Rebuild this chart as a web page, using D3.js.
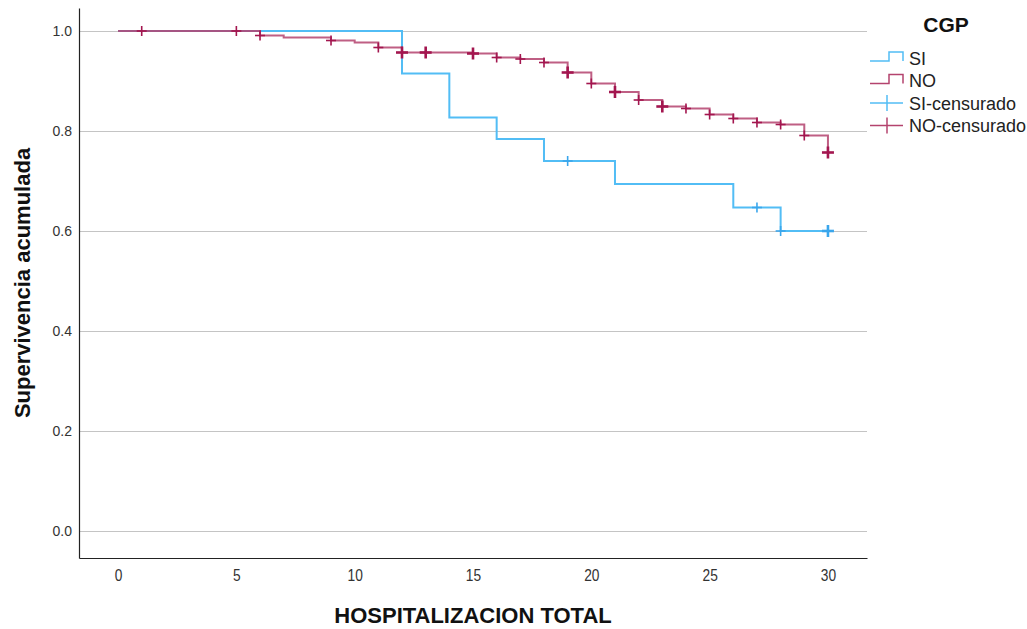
<!DOCTYPE html>
<html>
<head>
<meta charset="utf-8">
<script src="https://cdn.jsdelivr.net/npm/d3@7"></script>
<style>
  body { margin: 0; background: #fff; }
  text { font-family: "Liberation Sans", Arial, sans-serif; }
</style>
</head>
<body>
<script>
// Kaplan-Meier data
var si_times = [0, 12, 14, 16, 18, 21, 26, 28, 30];
var si_surv = [1.0, 0.915, 0.827, 0.784, 0.740, 0.694, 0.647, 0.600, 0.600];
var si_cens_times = [19, 27, 28, 30];
var si_cens_n = [1, 1, 1, 2];

var no_times = [0, 6, 7, 9, 10, 11, 12, 15, 16, 17, 18, 19, 20, 21, 22, 23, 24, 25, 26, 27, 28, 29, 30];
var no_surv = [1.0, 0.991, 0.987, 0.981, 0.977, 0.967, 0.957, 0.955, 0.947, 0.944, 0.937, 0.917,
               0.895, 0.878, 0.862, 0.849, 0.845, 0.833, 0.825, 0.817, 0.813, 0.791, 0.757];
var no_cens_times = [1, 5, 6, 9, 11, 12, 13, 15, 16, 17, 18, 19, 20, 21, 22, 23, 24, 25, 26, 27, 28, 29, 30];
var no_cens_n = [1, 1, 1, 1, 1, 2, 2, 2, 1, 1, 1, 2, 1, 2, 1, 2, 1, 1, 1, 1, 1, 1, 2];

var x_ticks = [0, 5, 10, 15, 20, 25, 30];
var y_ticks = [0, 0.2, 0.4, 0.6, 0.8, 1.0];
var legend_labels = ["SI", "NO", "SI-censurado", "NO-censurado"];

// Define margins
var margin = { top: 8, right: 160, bottom: 71, left: 79 };
var outer_width = 1027;
var outer_height = 629;
var width = outer_width - margin.left - margin.right;
var height = outer_height - margin.top - margin.bottom;

var si_color = "#52bdf5";
var si_mark = "#3aa6ec";
var no_color = "#b4436e";
var no_mark = "#a3164f";

var root = d3.select("body").append("svg")
    .attr("width", outer_width)
    .attr("height", outer_height);

var svg = root.append("g")
    .attr("transform", "translate(" + margin.left + "," + margin.top + ")");

var xScale = d3.scaleLinear().domain([-1.65, 31.65]).range([0, width]);
var yScale = d3.scaleLinear().domain([-0.054, 1.046]).range([height, 0]);

// gridlines
svg.append("g").selectAll("line")
    .data(y_ticks)
    .join("line")
    .attr("x1", 0)
    .attr("x2", width)
    .attr("y1", function(d) { return Math.round(yScale(d)) + 0.5; })
    .attr("y2", function(d) { return Math.round(yScale(d)) + 0.5; })
    .attr("stroke", "#c4c4c4")
    .attr("stroke-width", 1);

// axes
var xAxis = d3.axisBottom(xScale).tickValues(x_ticks).tickSize(0).tickPadding(11.5);
var yAxis = d3.axisLeft(yScale).tickValues(y_ticks).tickSize(0).tickPadding(7).tickFormat(d3.format(".1f"));

var gx = svg.append("g")
    .attr("transform", "translate(0," + height + ")")
    .call(xAxis);
var gy = svg.append("g").call(yAxis);

[gx, gy].forEach(function(g) {
    g.select(".domain").attr("stroke", "#222").attr("stroke-width", 1.2);
    g.selectAll("text")
        .attr("font-family", "'Liberation Sans', Arial, sans-serif")
        .attr("fill", "#333");
});
gy.selectAll("text").attr("font-size", 14);
// x labels are drawn narrow and tall in the original
gx.selectAll("text")
    .attr("font-size", 16)
    .attr("transform", "scale(0.86,1)");

// curves
var line = d3.line()
    .x(function(d) { return xScale(d[0]); })
    .y(function(d) { return yScale(d[1]); })
    .curve(d3.curveStepAfter);

function survAt(times, surv, t) {
    var v = surv[0];
    for (var i = 0; i < times.length; i++) {
        if (times[i] <= t) v = surv[i];
    }
    return v;
}

svg.append("path")
    .datum(d3.zip(si_times, si_surv))
    .attr("d", line)
    .attr("fill", "none")
    .attr("stroke", si_color)
    .attr("stroke-width", 2);

svg.append("path")
    .datum(d3.zip(no_times, no_surv))
    .attr("d", line)
    .attr("fill", "none")
    .attr("stroke", no_color)
    .attr("stroke-opacity", 0.85)
    .attr("stroke-width", 2);

// censored marks
function drawCrosses(times, counts, stimes, ssurv, col) {
    var g = svg.append("g");
    times.forEach(function(t, i) {
        var cx = xScale(t);
        var cy = yScale(survAt(stimes, ssurv, t));
        var sw = counts[i] > 1 ? 2.6 : 1.6;
        var s = counts[i] > 1 ? 6 : 5;
        g.append("line")
            .attr("x1", cx - s).attr("x2", cx + s)
            .attr("y1", cy).attr("y2", cy)
            .attr("stroke", col).attr("stroke-width", sw);
        g.append("line")
            .attr("x1", cx).attr("x2", cx)
            .attr("y1", cy - s).attr("y2", cy + s)
            .attr("stroke", col).attr("stroke-width", sw);
    });
}
drawCrosses(si_cens_times, si_cens_n, si_times, si_surv, si_mark);
drawCrosses(no_cens_times, no_cens_n, no_times, no_surv, no_mark);

// axis titles
root.append("text")
    .attr("x", margin.left + width / 2)
    .attr("y", 623)
    .attr("text-anchor", "middle")
    .attr("font-size", 22)
    .attr("font-weight", "bold")
    .attr("fill", "#111")
    .text("HOSPITALIZACION TOTAL");

root.append("text")
    .attr("transform", "translate(30," + (margin.top + height / 2) + ") rotate(-90)")
    .attr("text-anchor", "middle")
    .attr("font-size", 22)
    .attr("font-weight", "bold")
    .attr("fill", "#111")
    .text("Supervivencia acumulada");

// legend
var legend = root.append("g").attr("transform", "translate(870,0)");
legend.append("text")
    .attr("x", 76)
    .attr("y", 32)
    .attr("text-anchor", "middle")
    .attr("font-size", 21)
    .attr("font-weight", "bold")
    .attr("fill", "#111")
    .text("CGP");

var leg_colors = [si_color, no_color, si_color, no_color];
legend_labels.forEach(function(lab, i) {
    var cy = 58 + i * 22.5;
    var item = legend.append("g");
    if (i < 2) {
        item.append("path")
            .attr("d", "M0," + (cy + 3) + "H19V" + (cy - 6) + "H33V" + (cy + 3))
            .attr("fill", "none")
            .attr("stroke", leg_colors[i])
            .attr("stroke-width", 1.5);
    } else {
        item.append("line")
            .attr("x1", 0).attr("x2", 33).attr("y1", cy).attr("y2", cy)
            .attr("stroke", leg_colors[i]).attr("stroke-width", 1.5);
        item.append("line")
            .attr("x1", 17).attr("x2", 17).attr("y1", cy - 8).attr("y2", cy + 8)
            .attr("stroke", leg_colors[i]).attr("stroke-width", 1.5);
    }
    item.append("text")
        .attr("x", 39)
        .attr("y", cy + 6.5)
        .attr("font-size", 18)
        .attr("fill", "#222")
        .text(lab);
});
</script>
</body>
</html>
